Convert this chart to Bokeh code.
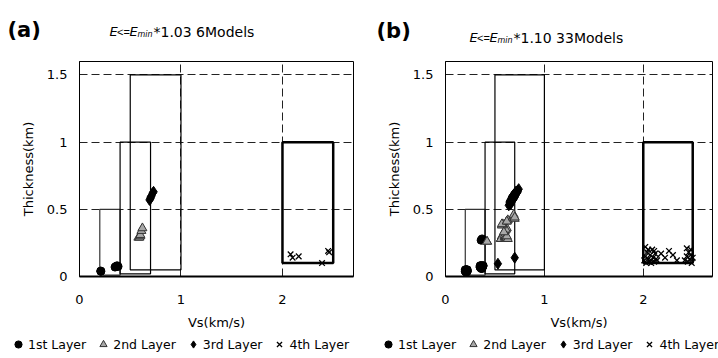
from bokeh.plotting import figure
from bokeh.models import Range1d, FixedTicker, Label, Legend, LegendItem, ColumnDataSource
from bokeh.layouts import row, column
from bokeh.embed import file_html
from bokeh.resources import INLINE

FONT = "DejaVu Sans"

# ---------------- data ----------------
x_ticks = [0, 1, 2]
x_tick_labels = ["0", "1", "2"]
y_ticks = [0, 0.5, 1, 1.5]
y_tick_labels = ["0", "0.5", "1", "1.5"]
layer_names = ["1st Layer", "2nd Layer", "3rd Layer", "4th Layer"]

# search bounds of each layer (Vs range, thickness range)
box_vs_min = [0.2, 0.4, 0.5, 2.0]
box_vs_max = [0.4, 0.7, 1.0, 2.5]
box_h_min = [0.01, 0.02, 0.05, 0.1]
box_h_max = [0.5, 1.0, 1.5, 1.0]

# panel (a): E <= Emin*1.03, 6 models
a_l1_vs = [0.21, 0.21, 0.35, 0.36, 0.37, 0.38]
a_l1_h = [0.04, 0.04, 0.07, 0.075, 0.08, 0.075]
a_l2_vs = [0.58, 0.59, 0.60, 0.60, 0.61, 0.62]
a_l2_h = [0.29, 0.29, 0.30, 0.31, 0.34, 0.36]
a_l3_vs = [0.69, 0.70, 0.70, 0.71, 0.72, 0.73]
a_l3_h = [0.57, 0.58, 0.59, 0.60, 0.62, 0.63]
a_l4_vs = [2.08, 2.10, 2.16, 2.39, 2.45, 2.46]
a_l4_h = [0.165, 0.14, 0.15, 0.10, 0.19, 0.18]

# panel (b): E <= Emin*1.10, 33 models
b_l1_vs = [0.20, 0.21, 0.21, 0.21, 0.22, 0.20, 0.21, 0.21, 0.22, 0.21, 0.20, 0.21, 0.21, 0.22, 0.21,
           0.35, 0.36, 0.36, 0.37, 0.37, 0.36, 0.35, 0.36, 0.37, 0.38, 0.36, 0.37, 0.36, 0.35, 0.37, 0.38,
           0.36, 0.37]
b_l1_h = [0.04, 0.04, 0.05, 0.04, 0.04, 0.05, 0.04, 0.03, 0.04, 0.05, 0.04, 0.04, 0.04, 0.05, 0.04,
          0.07, 0.07, 0.08, 0.07, 0.06, 0.07, 0.08, 0.07, 0.07, 0.08, 0.06, 0.07, 0.08, 0.07, 0.07, 0.08,
          0.27, 0.28]
b_l2_vs = [0.42, 0.56, 0.57, 0.57, 0.58, 0.57, 0.56, 0.60, 0.60, 0.61, 0.60, 0.61, 0.62, 0.62, 0.63, 0.62,
           0.60, 0.61, 0.62, 0.61, 0.57, 0.58, 0.57, 0.62, 0.63, 0.62, 0.68, 0.69, 0.70, 0.69, 0.70, 0.42, 0.59]
b_l2_h = [0.26, 0.28, 0.29, 0.28, 0.29, 0.30, 0.28, 0.29, 0.30, 0.29, 0.31, 0.30, 0.28, 0.29, 0.28, 0.30,
          0.34, 0.35, 0.36, 0.35, 0.38, 0.39, 0.39, 0.41, 0.42, 0.41, 0.44, 0.45, 0.43, 0.46, 0.44, 0.26, 0.33]
b_l3_vs = [0.53, 0.70, 0.64, 0.65, 0.65, 0.66, 0.66, 0.66, 0.67, 0.67, 0.67, 0.67, 0.68, 0.68, 0.68, 0.68,
           0.69, 0.69, 0.69, 0.69, 0.70, 0.70, 0.70, 0.71, 0.71, 0.71, 0.72, 0.72, 0.73, 0.73, 0.74, 0.65, 0.66]
b_l3_h = [0.095, 0.14, 0.53, 0.54, 0.55, 0.55, 0.56, 0.57, 0.56, 0.57, 0.58, 0.59, 0.57, 0.58, 0.59, 0.60,
          0.58, 0.59, 0.60, 0.61, 0.59, 0.60, 0.61, 0.61, 0.62, 0.63, 0.62, 0.63, 0.63, 0.64, 0.65, 0.56, 0.54]
b_l4_vs = [2.01, 2.02, 2.03, 2.04, 2.05, 2.06, 2.07, 2.08, 2.09, 2.10, 2.11, 2.12, 2.13, 2.14, 2.02, 2.05,
           2.08, 2.11, 2.18, 2.22, 2.26, 2.30, 2.34, 2.42, 2.44, 2.45, 2.46, 2.47, 2.48, 2.49, 2.50, 2.44, 2.48]
b_l4_h = [0.12, 0.15, 0.10, 0.18, 0.13, 0.11, 0.16, 0.12, 0.20, 0.14, 0.11, 0.17, 0.13, 0.12, 0.22, 0.20,
          0.10, 0.19, 0.17, 0.14, 0.19, 0.16, 0.12, 0.12, 0.15, 0.11, 0.18, 0.13, 0.20, 0.10, 0.14, 0.21, 0.16]

W = 359
TITLE_H = 50
MAIN_H = 283
LEG_H = 25

MARKERS = [dict(marker="circle", size=8, fill_color="black", line_color="black"),
           dict(marker="triangle", size=9, fill_color="#a8a8a8", line_color="#333333", line_width=1),
           dict(marker="diamond", size=11, fill_color="black", line_color="black"),
           dict(marker="x", size=8, line_color="black", line_width=1.3)]


def blank(height, flip=True, x_offset=0):
    p = figure(width=W, height=height, output_backend="svg", toolbar_location=None,
               x_range=Range1d(x_offset, x_offset + W),
               y_range=Range1d(height, 0) if flip else Range1d(0, height),
               x_axis_type=None, y_axis_type=None,
               min_border_left=0, min_border_right=0, min_border_top=0, min_border_bottom=0)
    p.outline_line_color = None
    p.background_fill_color = "white"
    p.border_fill_color = "white"
    return p


def title_panel(letter, factor, nmodels, letter_x, letter_base, title_x, title_base):
    p = blank(TITLE_H)
    p.add_layout(Label(x=letter_x, y=letter_base, text="(" + letter + ")", text_font=FONT,
                       text_font_size="21px", text_font_style="bold", text_color="black",
                       text_baseline="alphabetic"))
    pieces = [("E", 0, 0, "13px", "italic", FONT),
              ("<=", 7.5, 0, "11px", "normal", "Liberation Sans"),
              ("E", 20, 0, "13px", "italic", FONT),
              ("min", 28, 3, "8px", "italic", FONT),
              ("*" + factor + " " + nmodels + "Models", 44, 0, "14px", "normal", FONT)]
    for txt, dx, dy, fs, st, fnt in pieces:
        p.add_layout(Label(x=title_x + dx, y=title_base + dy, text=txt, text_font=fnt,
                           text_font_size=fs, text_font_style=st, text_color="black",
                           text_baseline="alphabetic"))
    return p


def main_panel(layers, border_left, border_top):
    frame_h = 219 if border_top == 7 else 215
    p = figure(width=W, height=MAIN_H, output_backend="svg", toolbar_location=None,
               x_range=Range1d(0, 2.7), y_range=Range1d(0, 1.6),
               min_border_left=border_left, min_border_right=6,
               min_border_top=border_top, min_border_bottom=MAIN_H - border_top - frame_h)
    p.background_fill_color = "white"
    p.border_fill_color = "white"
    p.outline_line_color = "black"
    p.outline_line_width = 1

    p.xaxis.ticker = FixedTicker(ticks=x_ticks)
    p.yaxis.ticker = FixedTicker(ticks=y_ticks)
    p.xaxis.major_label_overrides = dict(zip(x_ticks, x_tick_labels))
    p.yaxis.major_label_overrides = dict(zip(y_ticks, y_tick_labels))
    for ax in (p.xaxis, p.yaxis):
        ax.major_tick_in = 0
        ax.major_tick_out = 0
        ax.minor_tick_in = 0
        ax.minor_tick_out = 0
        ax.major_label_text_font = FONT
        ax.major_label_text_font_size = "13px"
        ax.major_label_text_color = "black"
        ax.axis_label_text_font = FONT
        ax.axis_label_text_font_size = "13px"
        ax.axis_label_text_font_style = "normal"
        ax.axis_label_text_color = "black"
        ax.axis_line_color = "black"
    p.xaxis.axis_line_width = 2
    p.xaxis.axis_label = "Vs(km/s)"
    p.yaxis.axis_label = "Thickness(km)"
    p.xaxis.major_label_standoff = 18
    p.xaxis.axis_label_standoff = 8
    p.yaxis.major_label_standoff = 12
    p.yaxis.axis_label_standoff = 8

    p.xgrid.ticker = FixedTicker(ticks=[1, 2])
    p.ygrid.ticker = FixedTicker(ticks=[0.5, 1, 1.5])
    for g in (p.xgrid, p.ygrid):
        g.grid_line_color = "#222222"
        g.grid_line_dash = "8 4"
        g.grid_line_width = 1

    box_src = ColumnDataSource(dict(left=box_vs_min, right=box_vs_max, bottom=box_h_min, top=box_h_max,
                                    color=["#333333", "black", "black", "black"],
                                    lw=[1.2, 1.2, 1.2, 2.5]))
    p.quad(left="left", right="right", bottom="bottom", top="top", source=box_src,
           fill_alpha=0, line_color="color", line_width="lw")

    for (vs, h), style in zip(layers, MARKERS):
        p.scatter(vs, h, **style)
    return p


def legend_panel(layers, start_x, spacing):
    # the layer data is kept far outside this strip's visible x range,
    # so only the legend entries are seen here
    p = blank(LEG_H, flip=False, x_offset=1000)
    items = []
    for (vs, h), name, style in zip(layers, layer_names, MARKERS):
        r = p.scatter(vs, h, **style)
        items.append(LegendItem(label=name, renderers=[r]))
    legend = Legend(items=items, orientation="horizontal", location=(start_x, 5),
                    padding=0, margin=0, spacing=spacing, glyph_width=18, glyph_height=18,
                    label_height=18, label_standoff=1,
                    label_text_font=FONT, label_text_font_size="12.5px",
                    label_text_color="black",
                    border_line_color=None, background_fill_alpha=0)
    p.add_layout(legend)
    return p


layers_a = [(a_l1_vs, a_l1_h), (a_l2_vs, a_l2_h), (a_l3_vs, a_l3_h), (a_l4_vs, a_l4_h)]
layers_b = [(b_l1_vs, b_l1_h), (b_l2_vs, b_l2_h), (b_l3_vs, b_l3_h), (b_l4_vs, b_l4_h)]

ta = title_panel("a", "1.03", "6", letter_x=7, letter_base=29, title_x=109, title_base=31)
tb = title_panel("b", "1.10", "33", letter_x=17, letter_base=30, title_x=110, title_base=37)
ma = main_panel(layers_a, border_left=79, border_top=7)
mb = main_panel(layers_b, border_left=86, border_top=11)
la = legend_panel(layers_a, 9, 8)
lb = legend_panel(layers_b, 20, 8)

layout = column(row(ta, tb), row(ma, mb), row(la, lb))
open("out.html", "w").write(file_html(layout, INLINE))
